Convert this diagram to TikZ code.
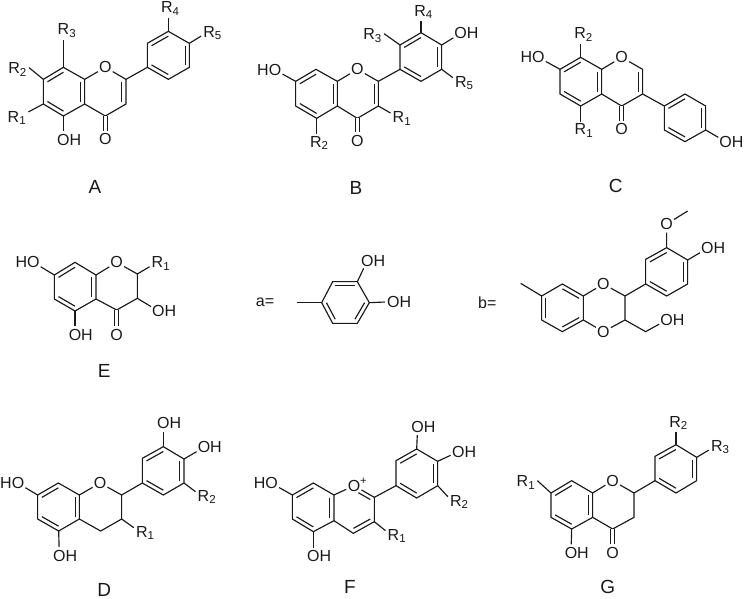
\documentclass[tikz,border=0pt]{standalone}
\usepackage{fontspec}
\setmainfont{Liberation Sans}
\usetikzlibrary{calc}
\newcommand{\inbond}[3]{\draw[bond] ($(#1)!0.8!(#2)$) -- ($(#1)!0.8!(#3)$);}
\newcommand{\rsub}[1]{R\textsubscript{\fontsize{11.5}{12}\selectfont #1}}
\begin{document}
\begin{tikzpicture}
    \tikzset{x=0.3333pt, y=-0.3333pt}
    \tikzstyle{bond}=[line width=1.15pt, black!90]
    \tikzstyle{dbond}=[bond, double, double distance=2.6pt]
    \tikzstyle{atom}=[circle, inner sep=0pt, text=black!90, font=\fontsize{16}{18}\selectfont]
    \tikzstyle{subst}=[rectangle, inner sep=2pt, xshift=0.6pt, text=black!90, font=\fontsize{16}{18}\selectfont]
    \tikzstyle{title}=[inner sep=0pt, text=black!90, font=\fontsize{19}{21}\selectfont]

    \useasboundingbox (0,0) rectangle (2235,1797);

    % compound A
    \draw (285,560) node[title] (tA) {A};
    \draw (130,238) coordinate (a7);  \draw (190,202) coordinate (a8);  \draw (254,238) coordinate (a8a);
    \draw (254,312) coordinate (a4a); \draw (190,348) coordinate (a5);  \draw (130,312) coordinate (a6);
    \draw (378,238) coordinate (a2);  \draw (378,312) coordinate (a3);  \draw (316,348) coordinate (a4);
    \draw (442,202) coordinate (a1p); \draw (442,130) coordinate (a2p); \draw (505,94)  coordinate (a3p);
    \draw (568,130) coordinate (a4p); \draw (568,202) coordinate (a5p); \draw (505,238) coordinate (a6p);
    \draw (316,202) node[atom] (aO1) {O};
    \draw (316,418) node[atom] (aO4) {O};
    \draw (190,420) node[atom] (aOH) {O\rlap{H}};
    \draw (49,354)  node[subst] (aR1) {\rsub{1}};
    \draw (51,209)  node[subst] (aR2) {\rsub{2}};
    \draw (199,92)  node[subst] (aR3) {\rsub{3}};
    \draw (509,26)  node[subst] (aR4) {\rsub{4}};
    \draw (636,99)  node[subst] (aR5) {\rsub{5}};
    \coordinate (ac1) at ($(a7)!0.5!(a4a)$);
    \coordinate (ac2) at ($(a8a)!0.5!(a3)$);
    \coordinate (ac3) at ($(a1p)!0.5!(a4p)$);
    \draw[bond] (a7) -- (a8) -- (a8a) -- (a4a) -- (a5) -- (a6) -- cycle;
    \draw[bond] (a8a) -- (aO1) -- (a2) -- (a3) -- (a4) -- (a4a);
    \draw[bond] (a1p) -- (a2p) -- (a3p) -- (a4p) -- (a5p) -- (a6p) -- cycle;
    \draw[bond] (a2) -- (a1p);
    \draw[dbond] (a4) -- (aO4);
    \draw[bond] (a5) -- (aOH);
    \draw[bond] (a6) -- (aR1);
    \draw[bond] (a7) -- (aR2.10);
    \draw[bond] (a8) -- (aR3.south -| a8);
    \draw[bond] (a3p) -- (aR4.south -| a3p);
    \draw[bond] (a4p) -- (aR5.195);
    \inbond{ac1}{a7}{a8} \inbond{ac1}{a8a}{a4a} \inbond{ac1}{a5}{a6}
    \inbond{ac2}{a2}{a3}
    \inbond{ac3}{a2p}{a3p} \inbond{ac3}{a4p}{a5p} \inbond{ac3}{a6p}{a1p}

    % compound B
    \begin{scope}[shift={(750,0)}]
    \draw (318,565) node[title] (tB) {B};
    \draw (137,244) coordinate (b7);  \draw (198,208) coordinate (b8);  \draw (262,244) coordinate (b8a);
    \draw (262,318) coordinate (b4a); \draw (200,355) coordinate (b5);  \draw (137,318) coordinate (b6);
    \draw (385,244) coordinate (b2);  \draw (385,318) coordinate (b3);  \draw (322,355) coordinate (b4);
    \draw (450,208) coordinate (b1p); \draw (450,135) coordinate (b2p); \draw (513,98)  coordinate (b3p);
    \draw (575,135) coordinate (b4p); \draw (575,208) coordinate (b5p); \draw (513,244) coordinate (b6p);
    \draw (322,208) node[atom] (bO1) {O};
    \draw (322,422) node[atom] (bO4) {O};
    \draw (75,210)  node[atom] (bHO) {\llap{H}O};
    \draw (632,100) node[atom] (bOH) {O\rlap{H}};
    \draw (454,355) node[subst] (bR1) {\rsub{1}};
    \draw (206,429) node[subst] (bR2) {\rsub{2}};
    \draw (366,107) node[subst] (bR3) {\rsub{3}};
    \draw (519,36)  node[subst] (bR4) {\rsub{4}};
    \draw (641,249) node[subst] (bR5) {\rsub{5}};
    \coordinate (bc1) at ($(b7)!0.5!(b4a)$);
    \coordinate (bc2) at ($(b8a)!0.5!(b3)$);
    \coordinate (bc3) at ($(b1p)!0.5!(b4p)$);
    \draw[bond] (b7) -- (b8) -- (b8a) -- (b4a) -- (b5) -- (b6) -- cycle;
    \draw[bond] (b8a) -- (bO1) -- (b2) -- (b3) -- (b4) -- (b4a);
    \draw[bond] (b1p) -- (b2p) -- (b3p) -- (b4p) -- (b5p) -- (b6p) -- cycle;
    \draw[bond] (b2) -- (b1p);
    \draw[dbond] (b4) -- (bO4);
    \draw[bond] (b7) -- (bHO);
    \draw[bond] (b4p) -- (bOH);
    \draw[bond] (b3) -- (bR1.155);
    \draw[bond] (b5) -- (bR2.north -| b5);
    \draw[bond] (b2p) -- (bR3.10);
    \draw[bond] (b3p) -- (bR4.south -| b3p);
    \draw[bond] (b5p) -- (bR5.155);
    \inbond{bc1}{b7}{b8} \inbond{bc1}{b8a}{b4a} \inbond{bc1}{b5}{b6}
    \inbond{bc2}{b2}{b3}
    \inbond{bc3}{b2p}{b3p} \inbond{bc3}{b4p}{b5p} \inbond{bc3}{b6p}{b1p}
    \end{scope}

    % compound C
    \begin{scope}[shift={(1485,0)}]
    \draw (362,558) node[title] (tC) {C};
    \draw (195,208) coordinate (c7);  \draw (257,172) coordinate (c8);  \draw (320,208) coordinate (c8a);
    \draw (320,282) coordinate (c4a); \draw (257,318) coordinate (c5);  \draw (195,282) coordinate (c6);
    \draw (443,208) coordinate (c2);  \draw (443,282) coordinate (c3);  \draw (380,318) coordinate (c4);
    \draw (508,318) coordinate (c1p); \draw (570,282) coordinate (c2p); \draw (632,318) coordinate (c3p);
    \draw (632,390) coordinate (c4p); \draw (570,425) coordinate (c5p); \draw (508,390) coordinate (c6p);
    \draw (380,172) node[atom] (cO1) {O};
    \draw (380,388) node[atom] (cO4) {O};
    \draw (130,172) node[atom] (cHO) {\llap{H}O};
    \draw (692,425) node[atom] (cOH) {O\rlap{H}};
    \draw (265,392) node[subst] (cR1) {\rsub{1}};
    \draw (264,104) node[subst] (cR2) {\rsub{2}};
    \coordinate (cc1) at ($(c7)!0.5!(c4a)$);
    \coordinate (cc2) at ($(c8a)!0.5!(c3)$);
    \coordinate (cc3) at ($(c1p)!0.5!(c4p)$);
    \draw[bond] (c7) -- (c8) -- (c8a) -- (c4a) -- (c5) -- (c6) -- cycle;
    \draw[bond] (c8a) -- (cO1) -- (c2) -- (c3) -- (c4) -- (c4a);
    \draw[bond] (c1p) -- (c2p) -- (c3p) -- (c4p) -- (c5p) -- (c6p) -- cycle;
    \draw[bond] (c3) -- (c1p);
    \draw[dbond] (c4) -- (cO4);
    \draw[bond] (c7) -- (cHO);
    \draw[bond] (c4p) -- (cOH);
    \draw[bond] (c5) -- (cR1.north -| c5);
    \draw[bond] (c8) -- (cR2.south -| c8);
    \inbond{cc1}{c7}{c8} \inbond{cc1}{c8a}{c4a} \inbond{cc1}{c5}{c6}
    \inbond{cc2}{c2}{c3}
    \inbond{cc3}{c1p}{c2p} \inbond{cc3}{c3p}{c4p} \inbond{cc3}{c5p}{c6p}
    \end{scope}

    % compound E
    \begin{scope}[shift={(0,600)}]
    \draw (313,513) node[title] (tE) {E};
    \draw (163,225) coordinate (e7);  \draw (225,187) coordinate (e8);  \draw (288,225) coordinate (e8a);
    \draw (288,297) coordinate (e4a); \draw (225,333) coordinate (e5);  \draw (163,297) coordinate (e6);
    \draw (412,222) coordinate (e2);  \draw (412,295) coordinate (e3);  \draw (350,330) coordinate (e4);
    \draw (350,187) node[atom] (eO1) {O};
    \draw (350,405) node[atom] (eO4) {O};
    \draw (100,187) node[atom] (eHO) {\llap{H}O};
    \draw (225,405) node[atom] (eOH5) {O\rlap{H}};
    \draw (475,333) node[atom] (eOH3) {O\rlap{H}};
    \draw (481,191) node[subst] (eR1) {\rsub{1}};
    \coordinate (ec1) at ($(e7)!0.5!(e4a)$);
    \draw[bond] (e7) -- (e8) -- (e8a) -- (e4a) -- (e5) -- (e6) -- cycle;
    \draw[bond] (e8a) -- (eO1) -- (e2) -- (e3) -- (e4) -- (e4a);
    \draw[dbond] (e4) -- (eO4);
    \draw[bond] (e7) -- (eHO);
    \draw[bond] (e5) -- (eOH5);
    \draw[bond] (e3) -- (eOH3);
    \draw[bond] (e2) -- (eR1.195);
    \inbond{ec1}{e7}{e8} \inbond{ec1}{e8a}{e4a} \inbond{ec1}{e5}{e6}
    \end{scope}

    % substituent a
    \begin{scope}[shift={(750,600)}]
    \draw (45,308) node[atom] (la) {a=};
    \draw (140,308) coordinate (sa0);
    \draw (215,308) coordinate (sa1); \draw (248,245) coordinate (sa2); \draw (322,245) coordinate (sa3);
    \draw (358,308) coordinate (sa4); \draw (322,370) coordinate (sa5); \draw (248,370) coordinate (sa6);
    \draw (352,182) node[atom] (saO1) {O\rlap{H}};
    \draw (430,305) node[atom] (saO2) {O\rlap{H}};
    \coordinate (sac) at ($(sa1)!0.5!(sa4)$);
    \draw[bond] (sa1) -- (sa2) -- (sa3) -- (sa4) -- (sa5) -- (sa6) -- cycle;
    \draw[bond] (sa0) -- (sa1);
    \draw[bond] (sa3) -- (saO1);
    \draw[bond] (sa4) -- (saO2);
    \inbond{sac}{sa2}{sa3} \inbond{sac}{sa4}{sa5} \inbond{sac}{sa6}{sa1}
    \end{scope}

    % substituent b
    \begin{scope}[shift={(1485,600)}]
    \draw (-23,308) node[atom] (lb) {b=};
    \draw (77,250)  coordinate (sb0);
    \draw (140,288) coordinate (sb1); \draw (202,252) coordinate (sb2); \draw (265,288) coordinate (sb3);
    \draw (265,360) coordinate (sb4); \draw (202,395) coordinate (sb5); \draw (140,360) coordinate (sb6);
    \draw (390,288) coordinate (sb7); \draw (390,360) coordinate (sb8);
    \draw (452,395) coordinate (sb9);
    \draw (452,252) coordinate (sb1p); \draw (452,178) coordinate (sb2p); \draw (515,143) coordinate (sb3p);
    \draw (578,180) coordinate (sb4p); \draw (578,252) coordinate (sb5p); \draw (515,288) coordinate (sb6p);
    \draw (578,33)  coordinate (sbme);
    \draw (325,252) node[atom] (sbO1) {O};
    \draw (325,395) node[atom] (sbO2) {O};
    \draw (515,72)  node[atom] (sbO3) {O};
    \draw (637,145) node[atom] (sbOH) {O\rlap{H}};
    \draw (515,360) node[atom] (sbOH2) {O\rlap{H}};
    \coordinate (sbc1) at ($(sb1)!0.5!(sb4)$);
    \coordinate (sbc2) at ($(sb1p)!0.5!(sb4p)$);
    \draw[bond] (sb1) -- (sb2) -- (sb3) -- (sb4) -- (sb5) -- (sb6) -- cycle;
    \draw[bond] (sb3) -- (sbO1) -- (sb7) -- (sb8) -- (sbO2) -- (sb4);
    \draw[bond] (sb0) -- (sb1);
    \draw[bond] (sb1p) -- (sb2p) -- (sb3p) -- (sb4p) -- (sb5p) -- (sb6p) -- cycle;
    \draw[bond] (sb7) -- (sb1p);
    \draw[bond] (sb8) -- (sb9) -- (sbOH2);
    \draw[bond] (sb3p) -- (sbO3) -- (sbme);
    \draw[bond] (sb4p) -- (sbOH);
    \inbond{sbc1}{sb2}{sb3} \inbond{sbc1}{sb1}{sb6} \inbond{sbc1}{sb5}{sb4}
    \inbond{sbc2}{sb2p}{sb3p} \inbond{sbc2}{sb4p}{sb5p} \inbond{sbc2}{sb6p}{sb1p}
    \end{scope}

    % compound D
    \begin{scope}[shift={(0,1197)}]
    \draw (313,572) node[title] (tD) {D};
    \draw (113,288) coordinate (d7);  \draw (175,252) coordinate (d8);  \draw (238,288) coordinate (d8a);
    \draw (238,360) coordinate (d4a); \draw (176,396) coordinate (d5);  \draw (113,360) coordinate (d6);
    \draw (365,288) coordinate (d2);  \draw (365,360) coordinate (d3);  \draw (302,396) coordinate (d4);
    \draw (427,252) coordinate (d1p); \draw (427,178) coordinate (d2p); \draw (490,143) coordinate (d3p);
    \draw (552,180) coordinate (d4p); \draw (552,252) coordinate (d5p); \draw (490,288) coordinate (d6p);
    \draw (300,252) node[atom] (dO1) {O};
    \draw (54,253)  node[atom] (dHO) {\llap{H}O};
    \draw (178,470) node[atom] (dOH5) {O\rlap{H}};
    \draw (490,72)  node[atom] (dOH3) {O\rlap{H}};
    \draw (612,145) node[atom] (dOH4) {O\rlap{H}};
    \draw (434,402) node[subst] (dR1) {\rsub{1}};
    \draw (619,294) node[subst] (dR2) {\rsub{2}};
    \coordinate (dc1) at ($(d7)!0.5!(d4a)$);
    \coordinate (dc3) at ($(d1p)!0.5!(d4p)$);
    \draw[bond] (d7) -- (d8) -- (d8a) -- (d4a) -- (d5) -- (d6) -- cycle;
    \draw[bond] (d8a) -- (dO1) -- (d2) -- (d3) -- (d4) -- (d4a);
    \draw[bond] (d1p) -- (d2p) -- (d3p) -- (d4p) -- (d5p) -- (d6p) -- cycle;
    \draw[bond] (d2) -- (d1p);
    \draw[bond] (d7) -- (dHO);
    \draw[bond] (d5) -- (dOH5);
    \draw[bond] (d3p) -- (dOH3);
    \draw[bond] (d4p) -- (dOH4);
    \draw[bond] (d3) -- (dR1.155);
    \draw[bond] (d5p) -- (dR2.155);
    \inbond{dc1}{d7}{d8} \inbond{dc1}{d8a}{d4a} \inbond{dc1}{d5}{d6}
    \inbond{dc3}{d2p}{d3p} \inbond{dc3}{d4p}{d5p} \inbond{dc3}{d6p}{d1p}
    \end{scope}

    % compound F
    \begin{scope}[shift={(750,1197)}]
    \draw (300,565) node[title] (tF) {F};
    \draw (127,288) coordinate (f7);  \draw (190,252) coordinate (f8);  \draw (252,288) coordinate (f8a);
    \draw (252,365) coordinate (f4a); \draw (190,398) coordinate (f5);  \draw (127,360) coordinate (f6);
    \draw (373,295) coordinate (f2);  \draw (373,368) coordinate (f3);  \draw (310,403) coordinate (f4);
    \draw (438,260) coordinate (f1p); \draw (438,185) coordinate (f2p); \draw (500,150) coordinate (f3p);
    \draw (563,187) coordinate (f4p); \draw (563,260) coordinate (f5p); \draw (500,297) coordinate (f6p);
    \draw (312,260) node[atom] (fO1) {O\rlap{\smash{\textsuperscript{+}}}};
    \draw (65,253)  node[atom] (fHO) {\llap{H}O};
    \draw (190,472) node[atom] (fOH5) {O\rlap{H}};
    \draw (503,83)  node[atom] (fOH3) {O\rlap{H}};
    \draw (625,158) node[atom] (fOH4) {O\rlap{H}};
    \draw (439,411) node[subst] (fR1) {\rsub{1}};
    \draw (626,309) node[subst] (fR2) {\rsub{2}};
    \coordinate (fc1) at ($(f7)!0.5!(f4a)$);
    \coordinate (fc2) at ($(f8a)!0.5!(f3)$);
    \coordinate (fc3) at ($(f1p)!0.5!(f4p)$);
    \draw[bond] (f7) -- (f8) -- (f8a) -- (f4a) -- (f5) -- (f6) -- cycle;
    \draw[bond] (f8a) -- (fO1) -- (f2) -- (f3) -- (f4) -- (f4a);
    \draw[bond] (f1p) -- (f2p) -- (f3p) -- (f4p) -- (f5p) -- (f6p) -- cycle;
    \draw[bond] (f2) -- (f1p);
    \draw[bond] (f7) -- (fHO);
    \draw[bond] (f5) -- (fOH5);
    \draw[bond] (f3p) -- (fOH3);
    \draw[bond] (f4p) -- (fOH4);
    \draw[bond] (f3) -- (fR1.155);
    \draw[bond] (f5p) -- (fR2.155);
    \draw[bond, shorten <=5pt] ($(fc2)!0.8!(fO1)$) -- ($(fc2)!0.8!(f2)$);
    \inbond{fc1}{f7}{f8} \inbond{fc1}{f8a}{f4a} \inbond{fc1}{f5}{f6}
    \inbond{fc2}{f3}{f4}
    \inbond{fc3}{f2p}{f3p} \inbond{fc3}{f4p}{f5p} \inbond{fc3}{f6p}{f1p}
    \end{scope}

    % compound G
    \begin{scope}[shift={(1485,1197)}]
    \draw (338,565) node[title] (tG) {G};
    \draw (168,282) coordinate (g7);  \draw (230,245) coordinate (g8);  \draw (293,282) coordinate (g8a);
    \draw (293,355) coordinate (g4a); \draw (230,390) coordinate (g5);  \draw (168,355) coordinate (g6);
    \draw (417,282) coordinate (g2);  \draw (417,355) coordinate (g3);  \draw (353,390) coordinate (g4);
    \draw (480,245) coordinate (g1p); \draw (480,172) coordinate (g2p); \draw (543,137) coordinate (g3p);
    \draw (605,175) coordinate (g4p); \draw (605,245) coordinate (g5p); \draw (543,282) coordinate (g6p);
    \draw (353,245) node[atom] (gO1) {O};
    \draw (353,462) node[atom] (gO4) {O};
    \draw (228,462) node[atom] (gOH) {O\rlap{H}};
    \draw (91,251)  node[subst] (gR1) {\rsub{1}};
    \draw (549,72)  node[subst] (gR2) {\rsub{2}};
    \draw (674,144) node[subst] (gR3) {\rsub{3}};
    \coordinate (gc1) at ($(g7)!0.5!(g4a)$);
    \coordinate (gc3) at ($(g1p)!0.5!(g4p)$);
    \draw[bond] (g7) -- (g8) -- (g8a) -- (g4a) -- (g5) -- (g6) -- cycle;
    \draw[bond] (g8a) -- (gO1) -- (g2) -- (g3) -- (g4) -- (g4a);
    \draw[bond] (g1p) -- (g2p) -- (g3p) -- (g4p) -- (g5p) -- (g6p) -- cycle;
    \draw[bond] (g2) -- (g1p);
    \draw[dbond] (g4) -- (gO4);
    \draw[bond] (g5) -- (gOH);
    \draw[bond] (g7) -- (gR1.10);
    \draw[bond] (g3p) -- (gR2.south -| g3p);
    \draw[bond] (g4p) -- (gR3.195);
    \inbond{gc1}{g7}{g8} \inbond{gc1}{g8a}{g4a} \inbond{gc1}{g5}{g6}
    \inbond{gc3}{g2p}{g3p} \inbond{gc3}{g4p}{g5p} \inbond{gc3}{g6p}{g1p}
    \end{scope}
\end{tikzpicture}
\end{document}
